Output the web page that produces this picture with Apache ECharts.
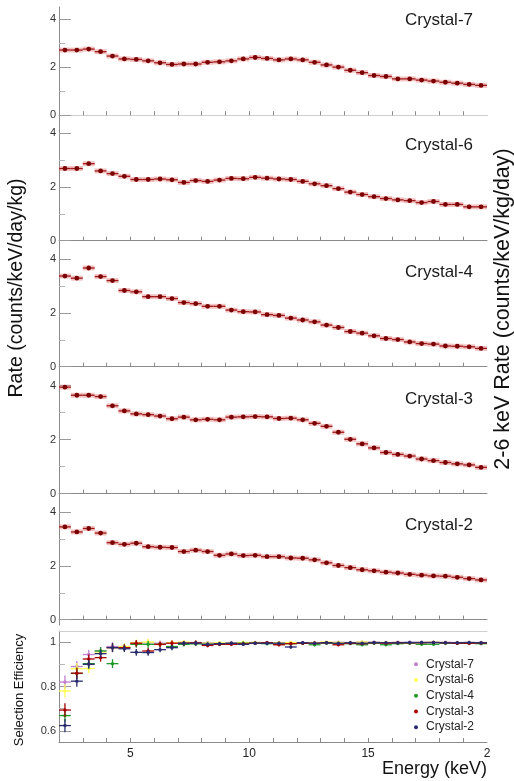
<!DOCTYPE html>
<html>
<head>
<meta charset="utf-8">
<script src="https://cdn.jsdelivr.net/npm/echarts@6/dist/echarts.min.js"></script>
<style>
  html, body { margin: 0; padding: 0; background: #ffffff; }
  #chart { width: 514px; height: 781px; }
</style>
</head>
<body>
<div id="chart"></div>
<script>
// Energy bins (keV): 0.5 keV wide, centres listed
const binCenters = [2.25, 2.75, 3.25, 3.75, 4.25, 4.75, 5.25, 5.75, 6.25, 6.75,
  7.25, 7.75, 8.25, 8.75, 9.25, 9.75, 10.25, 10.75, 11.25, 11.75,
  12.25, 12.75, 13.25, 13.75, 14.25, 14.75, 15.25, 15.75, 16.25, 16.75,
  17.25, 17.75, 18.25, 18.75, 19.25, 19.75];
const binHalfWidth = 0.25;

const crystals = ['Crystal-7', 'Crystal-6', 'Crystal-4', 'Crystal-3', 'Crystal-2'];

// Event rate per crystal (counts/keV/day/kg)
const rateCrystal7 = [2.71, 2.71, 2.75, 2.64, 2.46, 2.34, 2.32, 2.26, 2.18, 2.11,
  2.13, 2.13, 2.20, 2.22, 2.26, 2.34, 2.40, 2.36, 2.30, 2.34,
  2.30, 2.20, 2.09, 2.00, 1.87, 1.77, 1.65, 1.61, 1.51, 1.51,
  1.46, 1.42, 1.37, 1.33, 1.28, 1.24];
const rateCrystal6 = [2.69, 2.69, 2.87, 2.60, 2.50, 2.40, 2.28, 2.28, 2.30, 2.27,
  2.17, 2.24, 2.21, 2.26, 2.32, 2.31, 2.36, 2.33, 2.30, 2.28,
  2.21, 2.12, 2.05, 1.94, 1.81, 1.72, 1.64, 1.57, 1.52, 1.49,
  1.42, 1.46, 1.35, 1.35, 1.26, 1.26];
const rateCrystal4 = [3.38, 3.30, 3.68, 3.36, 3.21, 2.84, 2.79, 2.61, 2.61, 2.54,
  2.39, 2.35, 2.25, 2.25, 2.11, 2.05, 2.04, 1.94, 1.91, 1.81,
  1.74, 1.67, 1.55, 1.46, 1.31, 1.25, 1.15, 1.05, 1.01, 0.92,
  0.86, 0.84, 0.77, 0.76, 0.74, 0.68];
const rateCrystal3 = [3.94, 3.64, 3.64, 3.59, 3.25, 3.06, 2.95, 2.92, 2.87, 2.77,
  2.83, 2.73, 2.75, 2.73, 2.83, 2.84, 2.85, 2.84, 2.78, 2.79,
  2.73, 2.60, 2.49, 2.27, 2.01, 1.84, 1.69, 1.52, 1.45, 1.39,
  1.28, 1.22, 1.15, 1.10, 1.06, 0.97];
const rateCrystal2 = [3.46, 3.27, 3.40, 3.23, 2.87, 2.81, 2.85, 2.72, 2.70, 2.69,
  2.54, 2.59, 2.54, 2.40, 2.45, 2.39, 2.40, 2.35, 2.35, 2.30,
  2.29, 2.23, 2.12, 2.02, 1.94, 1.86, 1.82, 1.77, 1.74, 1.69,
  1.66, 1.63, 1.62, 1.58, 1.53, 1.48];
const rateSeries = [rateCrystal7, rateCrystal6, rateCrystal4, rateCrystal3, rateCrystal2];

// Selection efficiency per crystal
const effCrystal7 = [0.820, 0.890, 0.944, 0.960, 0.980, 0.980, 0.995, 0.997, 0.995, 0.997,
  0.998, 0.998, 0.997, 0.995, 0.997, 0.995, 0.998, 0.998, 0.997, 0.998,
  0.997, 0.998, 0.998, 0.999, 0.998, 1.000, 0.999, 0.998, 0.999, 0.999,
  0.999, 0.999, 0.999, 0.998, 0.998, 0.998];
const effCrystal6 = [0.780, 0.880, 0.881, 0.955, 0.975, 0.980, 0.997, 1.000, 0.990, 0.997,
  1.000, 0.997, 0.995, 0.997, 0.995, 0.998, 0.998, 0.997, 0.997, 0.998,
  0.995, 0.997, 1.000, 0.998, 0.997, 1.000, 0.998, 0.998, 0.998, 0.997,
  0.998, 0.999, 0.998, 0.997, 0.998, 0.997];
const effCrystal4 = [0.669, 0.859, 0.903, 0.960, 0.903, 0.975, 0.990, 0.990, 0.990, 0.980,
  0.990, 0.992, 0.990, 0.990, 0.993, 0.995, 0.995, 0.993, 0.990, 0.993,
  0.995, 0.988, 0.995, 0.993, 0.993, 0.988, 0.995, 0.988, 0.993, 0.995,
  0.990, 0.990, 0.995, 0.995, 0.995, 0.993];
const effCrystal3 = [0.694, 0.860, 0.924, 0.930, 0.975, 0.975, 0.995, 0.960, 0.990, 0.995,
  0.995, 0.997, 0.985, 0.990, 0.990, 0.992, 0.995, 0.997, 0.988, 0.993,
  0.995, 0.995, 0.997, 0.988, 0.995, 0.993, 0.997, 0.995, 0.997, 0.997,
  0.997, 0.998, 0.997, 0.995, 0.995, 0.996];
const effCrystal2 = [0.624, 0.824, 0.900, 0.948, 0.975, 0.970, 0.954, 0.953, 0.966, 0.975,
  0.995, 0.995, 0.990, 0.993, 0.995, 0.990, 0.995, 0.995, 0.995, 0.978,
  0.997, 0.995, 0.997, 0.995, 0.997, 0.995, 0.998, 0.997, 0.997, 0.998,
  0.998, 0.998, 0.997, 0.997, 0.998, 0.997];
const effSeries = [effCrystal7, effCrystal6, effCrystal4, effCrystal3, effCrystal2];
const effError = [0.030, 0.025, 0.020, 0.018, 0.020, 0.015, 0.015, 0.015, 0.012, 0.012,
  0.010, 0.010, 0.008, 0.008, 0.008, 0.008, 0.007, 0.007, 0.007, 0.007,
  0.007, 0.007, 0.006, 0.006, 0.006, 0.006, 0.006, 0.006, 0.005, 0.005,
  0.005, 0.005, 0.005, 0.005, 0.005, 0.005];

// Axis ticks and labels
const rateMajorTicks = [0, 2, 4];
const rateMinorTicks = [1, 3];
const effMajorTicks = [0.6, 0.8, 1];
const effMinorTicks = [0.7, 0.9];
const energyLabels = [5, 10, 15, 20];
const energyTicks = [3, 4, 5, 6, 7, 8, 9, 10, 11, 12, 13, 14, 15, 16, 17, 18, 19];

const effColors = ['#c07fcf', '#ffff55', '#1f9a2a', '#a80000', '#2a2a6e'];
const FONT = 'Liberation Sans, Arial, Helvetica, sans-serif';
const AXIS_GREY = '#8a8a8a';

// Panel frames in pixels: [top, height]
const ratePanels = [[7, 113], [120, 126], [246, 126], [372, 127], [499, 126]];
const effPanel = [631, 111];
const labelCentres = [22, 147, 274, 401, 527];

const chart = echarts.init(document.getElementById('chart'), null, { renderer: 'canvas' });

const grids = [], xAxes = [], yAxes = [], series = [], graphics = [];

function rateItem(params, api) {
  const x = api.value(0), y = api.value(1);
  const l = api.coord([x - binHalfWidth, y]);
  const r = api.coord([x + binHalfWidth, y]);
  return {
    type: 'group',
    children: [
      { type: 'rect', shape: { x: l[0], y: l[1] - 2.5, width: r[0] - l[0], height: 5 },
        style: { fill: 'rgba(228,120,120,0.45)' } },
      { type: 'line', shape: { x1: l[0], y1: l[1], x2: r[0], y2: r[1] },
        style: { stroke: '#a01818', lineWidth: 1.3 } },
      { type: 'circle', shape: { cx: (l[0] + r[0]) / 2, cy: l[1], r: 2.4 },
        style: { fill: '#7a0000' } }
    ]
  };
}

function effItem(color) {
  return function (params, api) {
    const x = api.value(0), y = api.value(1), e = api.value(2);
    const l = api.coord([x - binHalfWidth, y]);
    const r = api.coord([x + binHalfWidth, y]);
    const t = api.coord([x, y + e]);
    const b = api.coord([x, y - e]);
    return {
      type: 'group',
      children: [
        { type: 'line', shape: { x1: l[0], y1: l[1], x2: r[0], y2: r[1] },
          style: { stroke: color, lineWidth: 1.3 } },
        { type: 'line', shape: { x1: t[0], y1: t[1], x2: b[0], y2: b[1] },
          style: { stroke: color, lineWidth: 1.3 } },
        { type: 'circle', shape: { cx: (l[0] + r[0]) / 2, cy: l[1], r: 1.7 },
          style: { fill: color } }
      ]
    };
  };
}

function addPanel(top, height, yMin, yMax, major, minor, showXLabels, topLine) {
  const gi = grids.length;
  grids.push({ left: 59, right: 27, top: top, height: height, containLabel: false });
  const xi = xAxes.length;
  xAxes.push({
    gridIndex: gi, type: 'value', min: 2, max: 20,
    axisLine: { show: true, lineStyle: { color: AXIS_GREY, width: 1 } },
    axisTick: { show: true, inside: true, length: 4, customValues: energyTicks,
      lineStyle: { color: AXIS_GREY } },
    axisLabel: {
      show: showXLabels, customValues: energyLabels, margin: 6,
      fontFamily: FONT, fontSize: 12, color: '#222',
      formatter: v => (v === 20 ? '2' : String(v))
    },
    splitLine: { show: false }
  });
  if (topLine) {
    xAxes.push({
      gridIndex: gi, type: 'value', min: 2, max: 20, position: 'top',
      axisLine: { show: true, lineStyle: { color: '#cfcfcf' } },
      axisTick: { show: false }, axisLabel: { show: false }, splitLine: { show: false }
    });
  }
  const yi = yAxes.length;
  yAxes.push({
    gridIndex: gi, type: 'value', min: yMin, max: yMax,
    axisLine: { show: true, lineStyle: { color: AXIS_GREY } },
    axisTick: { show: true, inside: true, length: 12, customValues: major,
      lineStyle: { color: '#9a9a9a' } },
    axisLabel: { show: true, customValues: major, margin: 3,
      fontFamily: FONT, fontSize: 11, color: '#333' },
    splitLine: { show: false }
  });
  yAxes.push({
    gridIndex: gi, type: 'value', min: yMin, max: yMax, position: 'left',
    axisLine: { show: false },
    axisTick: { show: true, inside: true, length: 6, customValues: minor,
      lineStyle: { color: '#b5b5b5' } },
    axisLabel: { show: false },
    splitLine: { show: false }
  });
  return { xi: xi, yi: yi };
}

// Rate panels, one per crystal
ratePanels.forEach((p, i) => {
  const ax = addPanel(p[0], p[1], -0.2, 4.5, rateMajorTicks, rateMinorTicks, false, i === 0);
  series.push({
    type: 'custom', name: 'rate ' + crystals[i],
    xAxisIndex: ax.xi, yAxisIndex: ax.yi,
    renderItem: rateItem,
    data: binCenters.map((x, k) => [x, rateSeries[i][k]]),
    encode: { x: 0, y: 1 },
    silent: true, animation: false
  });
  graphics.push({
    type: 'text', right: 514 - 473, top: labelCentres[i] - 10,
    style: { text: crystals[i], font: '17px ' + FONT, fill: '#1a1a1a' }
  });
});

// Selection efficiency panel
const effAx = addPanel(effPanel[0], effPanel[1], 0.55, 1.05, effMajorTicks, effMinorTicks, true, true);
crystals.forEach((name, i) => {
  series.push({
    type: 'custom', name: name,
    xAxisIndex: effAx.xi, yAxisIndex: effAx.yi,
    itemStyle: { color: effColors[i] },
    renderItem: effItem(effColors[i]),
    data: binCenters.map((x, k) => [x, effSeries[i][k], effError[k]]),
    encode: { x: 0, y: 1 },
    silent: true, animation: false
  });
});

// Axis titles
graphics.push(
  { type: 'text', x: 17, y: 288, rotation: Math.PI / 2,
    style: { text: 'Rate (counts/keV/day/kg)', font: '19.5px ' + FONT, fill: '#111',
      align: 'center', verticalAlign: 'middle' } },
  { type: 'text', x: 503, y: 309, rotation: Math.PI / 2,
    style: { text: '2-6 keV Rate (counts/keV/kg/day)', font: '21.5px ' + FONT, fill: '#111',
      align: 'center', verticalAlign: 'middle' } },
  { type: 'text', x: 19, y: 690, rotation: Math.PI / 2,
    style: { text: 'Selection Efficiency', font: '13px ' + FONT, fill: '#111',
      align: 'center', verticalAlign: 'middle' } },
  { type: 'text', x: 487, y: 769,
    style: { text: 'Energy (keV)', font: '18px ' + FONT, fill: '#111',
      align: 'right', verticalAlign: 'middle' } }
);

chart.setOption({
  animation: false,
  backgroundColor: '#ffffff',
  grid: grids,
  xAxis: xAxes,
  yAxis: yAxes,
  series: series,
  legend: {
    data: crystals.map(n => ({ name: n, icon: 'circle' })),
    orient: 'vertical', left: 409, top: 652,
    itemWidth: 4, itemHeight: 4, itemGap: 1,
    selectedMode: false,
    textStyle: { fontFamily: FONT, fontSize: 12, color: '#222', lineHeight: 14.7,
      padding: [0, 0, 0, 3] }
  },
  graphic: graphics
});
</script>
</body>
</html>
